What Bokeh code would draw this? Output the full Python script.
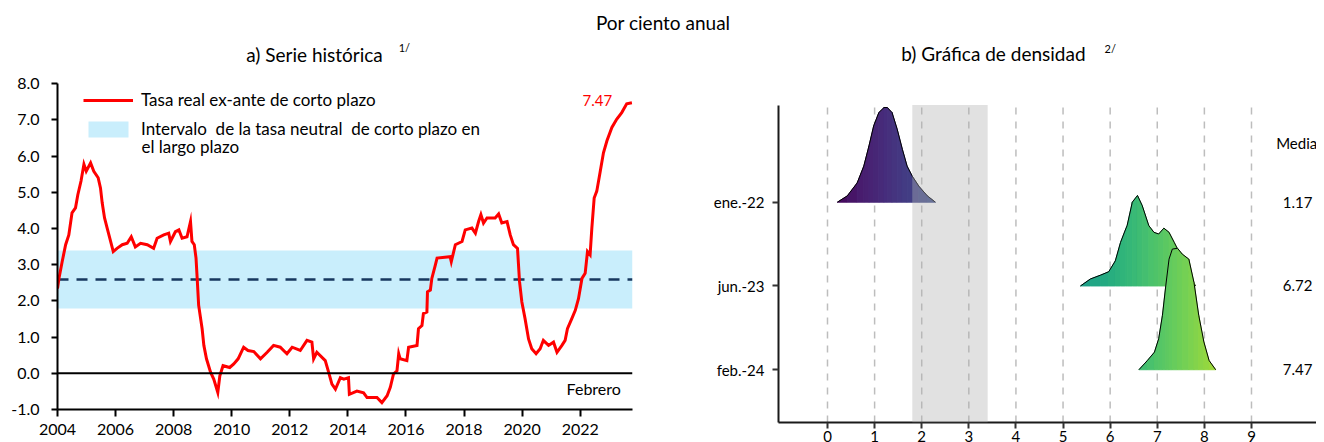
from bokeh.plotting import figure
from bokeh.models import (Div, Label, Span, Legend, LegendItem, FixedTicker,
                          BoxAnnotation, Range1d, NumeralTickFormatter)
from bokeh.layouts import column, row
from bokeh.palettes import Viridis256
from bokeh.embed import file_html
from bokeh.resources import INLINE
from bokeh.core.properties import value

FONT = "Lato"

# ---------------- data: panel a) Serie histórica ----------------
years = [2004.00, 2004.05, 2004.16, 2004.28, 2004.39, 2004.50, 2004.62, 2004.70, 2004.81, 2004.91,
         2004.99, 2005.14, 2005.25, 2005.40, 2005.48, 2005.54, 2005.62, 2005.71, 2005.80, 2005.92,
         2006.05, 2006.23, 2006.40, 2006.54, 2006.68, 2006.86, 2007.09, 2007.31, 2007.43, 2007.66,
         2007.83, 2007.89, 2008.06, 2008.18, 2008.29, 2008.46, 2008.58, 2008.63, 2008.71, 2008.77,
         2008.81, 2008.86, 2008.98, 2009.04, 2009.13, 2009.27, 2009.38, 2009.52, 2009.59, 2009.70,
         2009.93, 2010.07, 2010.22, 2010.41, 2010.56, 2010.76, 2010.99, 2011.22, 2011.44, 2011.67,
         2011.90, 2012.08, 2012.36, 2012.59, 2012.76, 2012.82, 2012.93, 2013.22, 2013.34, 2013.45,
         2013.57, 2013.74, 2013.86, 2014.02, 2014.05, 2014.31, 2014.54, 2014.66, 2015.00, 2015.17,
         2015.35, 2015.46, 2015.57, 2015.69, 2015.75, 2015.80, 2016.03, 2016.09, 2016.38, 2016.43,
         2016.55, 2016.60, 2016.72, 2016.74, 2016.84, 2016.89, 2017.01, 2017.07, 2017.52, 2017.56,
         2017.70, 2017.93, 2018.04, 2018.27, 2018.39, 2018.50, 2018.58, 2018.67, 2018.79, 2019.07,
         2019.19, 2019.30, 2019.48, 2019.59, 2019.70, 2019.84, 2019.91, 2019.99, 2020.10, 2020.22,
         2020.33, 2020.48, 2020.62, 2020.73, 2020.91, 2021.08, 2021.20, 2021.37, 2021.48, 2021.56,
         2021.71, 2021.83, 2021.94, 2022.06, 2022.17, 2022.25, 2022.34, 2022.40, 2022.48, 2022.57,
         2022.69, 2022.80, 2022.92, 2023.09, 2023.26, 2023.43, 2023.60, 2023.78]
rate = [2.34, 2.62, 3.08, 3.55, 3.82, 4.43, 4.57, 4.93, 5.31, 5.77,
        5.58, 5.81, 5.58, 5.40, 5.12, 4.70, 4.29, 4.01, 3.73, 3.36,
        3.45, 3.55, 3.59, 3.77, 3.49, 3.59, 3.55, 3.45, 3.73, 3.82,
        3.87, 3.64, 3.91, 3.96, 3.73, 3.77, 4.19, 3.64, 3.55, 3.18,
        2.62, 1.88, 1.23, 0.77, 0.40, 0.03, -0.16, -0.53, -0.07, 0.21,
        0.16, 0.26, 0.40, 0.72, 0.63, 0.60, 0.40, 0.58, 0.77, 0.72,
        0.54, 0.72, 0.63, 0.91, 0.86, 0.40, 0.58, 0.35, 0.02, -0.30,
        -0.44, -0.12, -0.16, -0.12, -0.58, -0.49, -0.54, -0.67, -0.67, -0.81,
        -0.62, -0.39, -0.02, 0.07, 0.54, 0.40, 0.35, 0.72, 0.77, 1.23,
        1.32, 1.65, 1.69, 2.25, 2.30, 2.62, 2.99, 3.18, 3.22, 3.08,
        3.55, 3.64, 3.96, 4.01, 3.87, 4.19, 4.38, 4.15, 4.29, 4.29,
        4.40, 4.15, 4.19, 3.82, 3.55, 3.45, 2.53, 1.97, 1.51, 0.95,
        0.68, 0.54, 0.68, 0.91, 0.77, 0.86, 0.58, 0.77, 0.91, 1.23,
        1.51, 1.74, 2.06, 2.62, 2.76, 3.36, 3.27, 4.01, 4.84, 5.03,
        5.58, 6.09, 6.42, 6.79, 7.02, 7.20, 7.44, 7.47]
neutral_low = 1.8
neutral_high = 3.4
neutral_mid = 2.6
year_ticks = [2004, 2006, 2008, 2010, 2012, 2014, 2016, 2018, 2020, 2022]
rate_ticks = [-1, 0, 1, 2, 3, 4, 5, 6, 7, 8]
series_label = "Tasa real ex-ante de corto plazo"
band_label = "Intervalo  de la tasa neutral  de corto plazo en"
band_label2 = "el largo plazo"
month_label = "Febrero"

# ---------------- data: panel b) Gráfica de densidad ----------------
categories = ["ene.-22", "jun.-23", "feb.-24"]
means = [1.17, 6.72, 7.47]
dens_x_ene = [0.21, 0.42, 0.63, 0.77, 0.88, 0.98, 1.09, 1.20, 1.27, 1.37, 1.48, 1.59, 1.69, 1.80,
              1.94, 2.12, 2.29]
dens_y_ene = [0.0, 0.075, 0.23, 0.43, 0.67, 0.91, 1.07, 1.13, 1.13, 1.07, 0.87, 0.63, 0.43, 0.31,
              0.19, 0.075, 0.0]
dens_x_jun = [5.37, 5.58, 5.80, 5.97, 6.11, 6.22, 6.33, 6.36, 6.47, 6.58, 6.68, 6.82, 6.93, 7.03,
              7.14, 7.25, 7.36, 7.45, 7.55, 7.65, 7.74, 7.81]
dens_y_jun = [0.0, 0.083, 0.13, 0.17, 0.30, 0.52, 0.68, 0.72, 1.00, 1.08, 0.96, 0.72, 0.64, 0.62,
              0.69, 0.64, 0.52, 0.42, 0.30, 0.18, 0.08, 0.0]
dens_x_feb = [6.61, 6.79, 6.94, 7.03, 7.11, 7.18, 7.25, 7.32, 7.43, 7.53, 7.67, 7.78, 7.88, 7.99,
              8.10, 8.24]
dens_y_feb = [0.0, 0.11, 0.21, 0.37, 0.65, 1.00, 1.32, 1.44, 1.45, 1.38, 1.32, 1.04, 0.65, 0.33,
              0.11, 0.0]
neutral_band_b = (1.8, 3.4)
b_ticks = [0, 1, 2, 3, 4, 5, 6, 7, 8, 9]
mean_header = "Media"

# ============================ panel a ============================
A_TOP = 9.19          # top of the canvas area in value units (title lives up there)
p1 = figure(width=660, height=404, x_range=Range1d(2004, 2023.8), y_range=Range1d(-1, A_TOP),
            output_backend="svg", toolbar_location=None,
            min_border_left=57, min_border_right=28, min_border_top=0, min_border_bottom=35)
p1.outline_line_color = None
p1.grid.visible = False

band = p1.hstrip(y0=[neutral_low], y1=[neutral_high], fill_color="#c9eefc", line_color=None)
p1.hspan(y=[neutral_mid], line_color="#17375e", line_width=2.5, line_dash="11 8")
p1.add_layout(Span(location=0, dimension="width", line_color="black", line_width=2))
line = p1.line(years, rate, line_color="#ff0000", line_width=3, line_join="miter")

for ax in (p1.xaxis[0], p1.yaxis[0]):
    ax.axis_line_color = "black"
    ax.axis_line_width = 2
    ax.major_tick_line_color = "black"
    ax.major_tick_line_width = 2
    ax.major_tick_in = 0
    ax.minor_tick_line_color = None
    ax.major_label_text_font = FONT
    ax.major_label_text_font_size = "16px"
    ax.major_label_text_color = "black"
p1.xaxis.ticker = FixedTicker(ticks=year_ticks)
p1.xaxis.major_tick_out = 7
p1.xaxis.major_label_standoff = 7
p1.yaxis.ticker = FixedTicker(ticks=rate_ticks)
p1.yaxis.formatter = NumeralTickFormatter(format="0.0")
p1.yaxis.major_tick_out = 6
p1.yaxis.major_label_standoff = 12
p1.yaxis.bounds = (rate_ticks[0], rate_ticks[-1])

legend = Legend(items=[LegendItem(label=series_label, renderers=[line]),
                       LegendItem(label=band_label, renderers=[band])],
                location=(26, 270), orientation="vertical",
                border_line_color=None, background_fill_alpha=0,
                padding=0, margin=0, spacing=8, glyph_width=50, glyph_height=20,
                label_standoff=8, label_height=20,
                label_text_font=FONT, label_text_font_size="17px", label_text_color="black")
p1.add_layout(legend)
p1.add_layout(Label(x=2006.89, y=6.27, text=band_label2, text_font=FONT, text_font_size="17px",
                    text_baseline="middle", text_color="black"))
p1.add_layout(Label(x=2023.1, y=7.53, text=f"{rate[-1]:.2f}", text_font=FONT, text_font_size="15px",
                    text_baseline="middle", text_align="right", text_color="#ff0000"))
p1.add_layout(Label(x=2023.4, y=-0.42, text=month_label, text_font=FONT, text_font_size="16px",
                    text_baseline="middle", text_align="right", text_color="black"))
p1.add_layout(Label(x=2012.85, y=8.80, text="a) Serie histórica", text_font=FONT,
                    text_font_size="19px", text_baseline="middle", text_align="center",
                    text_color="black"))
p1.add_layout(Label(x=2015.75, y=9.0, text="1/", text_font=FONT, text_font_size="11px",
                    text_baseline="middle", text_align="left", text_color="black"))

# ============================ panel b ============================
row_pos = [len(categories) - i for i in range(len(categories))]
B_BOTTOM, B_PLOT_TOP, B_TOP = 0.37, 4.16, 4.93
p2 = figure(width=656, height=404, x_range=Range1d(-1.04, 10.38),
            y_range=Range1d(B_BOTTOM, B_TOP),
            output_backend="svg", toolbar_location=None,
            min_border_left=118, min_border_right=0, min_border_top=0, min_border_bottom=21)
p2.outline_line_color = None
p2.grid.visible = False

# dashed vertical guides at each x tick, only over the plotting area
p2.segment(x0=b_ticks, y0=[B_BOTTOM] * len(b_ticks), x1=b_ticks, y1=[B_PLOT_TOP] * len(b_ticks),
           line_color="#bdbdbd", line_width=1.5, line_dash="7 7")


def vir(v):
    t = min(max(v / 9.6, 0.0), 1.0)
    return Viridis256[int(round(t * 255))]


dens = [(dens_x_ene, dens_y_ene), (dens_x_jun, dens_y_jun), (dens_x_feb, dens_y_feb)]
for (dx, dy), base in zip(dens, row_pos):
    xs, ys, cols = [], [], []
    for i in range(len(dx) - 1):
        xs.append([dx[i], dx[i + 1], dx[i + 1], dx[i]])
        ys.append([base, base, base + dy[i + 1], base + dy[i]])
        cols.append(vir((dx[i] + dx[i + 1]) / 2))
    p2.patches(xs, ys, fill_color=cols, line_color=cols, line_width=1)
    p2.line(dx, [base + v for v in dy], line_color="black", line_width=1)

p2.add_layout(BoxAnnotation(left=neutral_band_b[0], right=neutral_band_b[1],
                            bottom=B_BOTTOM, top=B_PLOT_TOP,
                            fill_color="#b0b0b0", fill_alpha=0.38, line_color=None))

p2.text(x=[9.98] * len(means), y=row_pos, text=[f"{m:.2f}" for m in means],
        text_font=value(FONT), text_font_size="15px", text_align="center",
        text_baseline="middle", text_color="black")
p2.add_layout(Label(x=9.96, y=3.71, text=mean_header, text_font=FONT, text_font_size="15px",
                    text_baseline="middle", text_align="center", text_color="black"))
p2.add_layout(Label(x=3.52, y=4.77, text="b) Gráfica de densidad", text_font=FONT,
                    text_font_size="19px", text_baseline="middle", text_align="center",
                    text_color="black"))
p2.add_layout(Label(x=5.88, y=4.84, text="2/", text_font=FONT, text_font_size="11px",
                    text_baseline="middle", text_align="left", text_color="black"))

for ax in (p2.xaxis[0], p2.yaxis[0]):
    ax.axis_line_color = "#1a1a1a"
    ax.axis_line_width = 2
    ax.major_tick_line_color = "#333333"
    ax.major_tick_line_width = 2
    ax.major_tick_in = 0
    ax.minor_tick_line_color = None
    ax.major_label_text_font = FONT
    ax.major_label_text_font_size = "15px"
    ax.major_label_text_color = "black"
p2.xaxis.ticker = FixedTicker(ticks=b_ticks)
p2.xaxis.major_tick_out = 6
p2.xaxis.major_label_standoff = 2
p2.yaxis.ticker = FixedTicker(ticks=row_pos)
p2.yaxis.major_label_overrides = {r: c for r, c in zip(row_pos, categories)}
p2.yaxis.major_tick_out = 6
p2.yaxis.major_label_standoff = 8
p2.yaxis.bounds = (B_BOTTOM, B_PLOT_TOP)

header = Div(text="Por ciento anual", width=1316, height=30,
             styles={"text-align": "center", "font-family": FONT, "font-size": "19px",
                     "color": "black", "padding-top": "4px", "box-sizing": "border-box"})

layout = column(header, row(p1, column(p2, spacing=0), spacing=0), spacing=0)
open("out.html", "w").write(file_html(layout, INLINE))
